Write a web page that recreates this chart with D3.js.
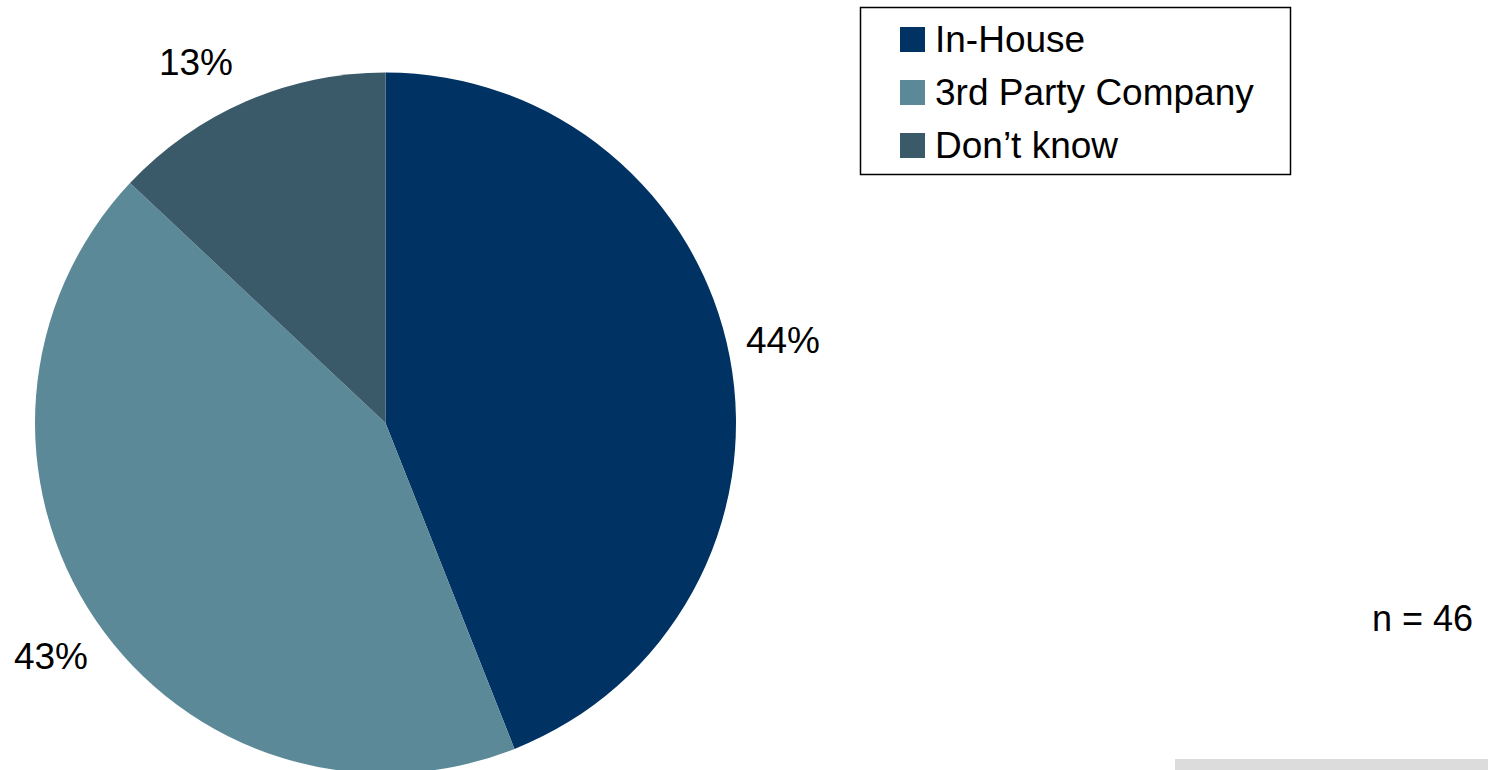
<!DOCTYPE html>
<html>
<head>
<meta charset="utf-8">
<script src="https://cdn.jsdelivr.net/npm/d3@7"></script>
<style>
  html, body { margin: 0; padding: 0; background: #fff; }
  svg { display: block; font-family: "Liberation Sans", Arial, sans-serif; }
</style>
</head>
<body>
<svg id="chart" width="1488" height="770"></svg>
<script>
// Survey responses (percent of respondents)
const categories = ["In-House", "3rd Party Company", "Don\u2019t know"];
const values = [44, 43, 13];
const colors = ["#003263", "#5b8998", "#3b5a69"];
const sampleNote = "n = 46";

const svg = d3.select("#chart");
const W = 1488, H = 770;

const cx = 385.5, cy = 423, radius = 350.5;

const pie = d3.pie().sort(null).value(d => d.value);
const arcs = pie(categories.map((c, i) => ({ name: c, value: values[i], color: colors[i] })));

const arcGen = d3.arc().innerRadius(0).outerRadius(radius);
const labelArc = d3.arc().innerRadius(radius + 45).outerRadius(radius + 45);

const g = svg.append("g").attr("transform", `translate(${cx},${cy})`);

g.selectAll("path.slice")
  .data(arcs)
  .join("path")
  .attr("class", "slice")
  .attr("d", arcGen)
  .attr("fill", d => d.data.color);

// Percentage labels placed outside each slice
const labelPos = [
  { x: 783, y: 353 },
  { x: 51, y: 669 },
  { x: 196, y: 75 }
];
svg.selectAll("text.pct")
  .data(arcs)
  .join("text")
  .attr("class", "pct")
  .attr("x", (d, i) => labelPos[i].x)
  .attr("y", (d, i) => labelPos[i].y)
  .attr("text-anchor", "middle")
  .attr("font-size", 37)
  .attr("fill", "#000")
  .text(d => d3.format(".0f")(d.data.value) + "%");

// Legend
const legend = svg.append("g");
legend.append("rect")
  .attr("x", 860.5).attr("y", 7.5)
  .attr("width", 430).attr("height", 167)
  .attr("fill", "#fff")
  .attr("stroke", "#000")
  .attr("stroke-width", 1.5);

const rowY = d3.scaleLinear().domain([0, 2]).range([52, 158]);
const items = legend.selectAll("g.item")
  .data(categories)
  .join("g")
  .attr("class", "item")
  .attr("transform", (d, i) => `translate(0,${rowY(i)})`);

items.append("rect")
  .attr("x", 900).attr("y", -25)
  .attr("width", 25).attr("height", 25)
  .attr("fill", (d, i) => colors[i]);

items.append("text")
  .attr("x", 935).attr("y", 0)
  .attr("font-size", 37)
  .attr("fill", "#000")
  .text(d => d);

// Sample size note
svg.append("text")
  .attr("x", 1473).attr("y", 631)
  .attr("text-anchor", "end")
  .attr("font-size", 36)
  .attr("fill", "#000")
  .text(sampleNote);

// Footer strip
svg.append("rect")
  .attr("x", 1175).attr("y", 759)
  .attr("width", W - 1175).attr("height", H - 759)
  .attr("fill", "#dcdcdc");
</script>
</body>
</html>
